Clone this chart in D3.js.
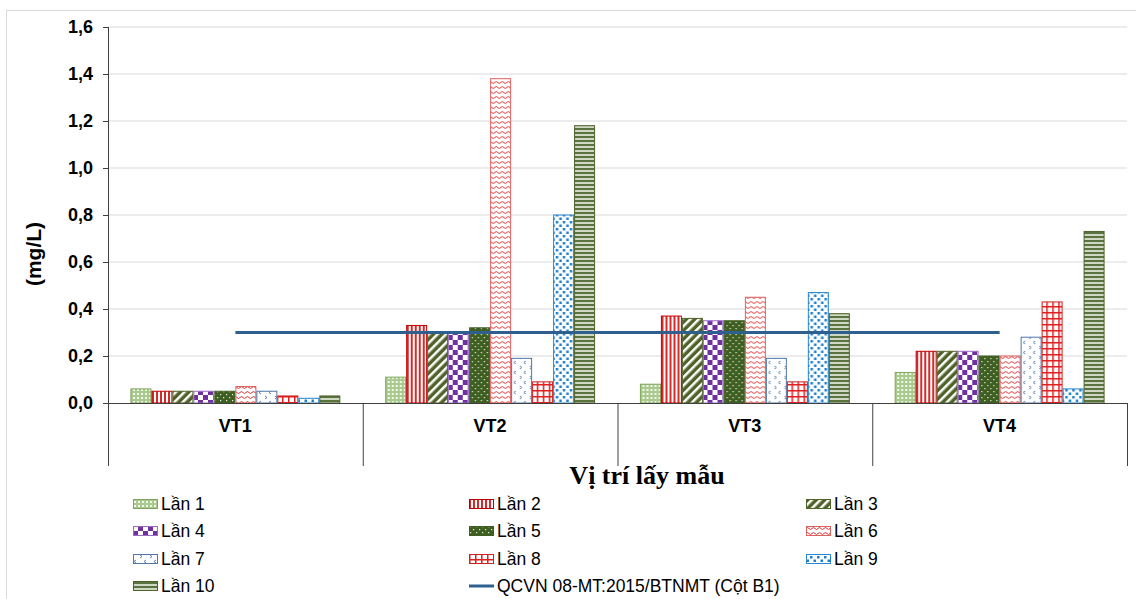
<!DOCTYPE html>
<html>
<head>
<meta charset="utf-8">
<script src="https://cdn.jsdelivr.net/npm/d3@7"></script>
<style>
  html, body { margin: 0; padding: 0; background: #fff; }
  svg { display: block; }
</style>
</head>
<body>
<svg id="chart" width="1136" height="599"></svg>
<script>
// Sampling sites and measurement rounds
const categories = ["VT1", "VT2", "VT3", "VT4"];
const seriesNames = ["Lần 1", "Lần 2", "Lần 3", "Lần 4", "Lần 5", "Lần 6", "Lần 7", "Lần 8", "Lần 9", "Lần 10"];

// Concentration (mg/L) per round, one value per site
const lan1  = [0.06, 0.11, 0.08, 0.13];
const lan2  = [0.05, 0.33, 0.37, 0.22];
const lan3  = [0.05, 0.30, 0.36, 0.22];
const lan4  = [0.05, 0.30, 0.35, 0.22];
const lan5  = [0.05, 0.32, 0.35, 0.20];
const lan6  = [0.07, 1.38, 0.45, 0.20];
const lan7  = [0.05, 0.19, 0.19, 0.28];
const lan8  = [0.03, 0.09, 0.09, 0.43];
const lan9  = [0.02, 0.80, 0.47, 0.06];
const lan10 = [0.03, 1.18, 0.38, 0.73];
const seriesValues = [lan1, lan2, lan3, lan4, lan5, lan6, lan7, lan8, lan9, lan10];

// Regulation limit line
const limitName = "QCVN 08-MT:2015/BTNMT (Cột B1)";
const limitValues = [0.3, 0.3, 0.3, 0.3];

const yTicks = [0, 0.2, 0.4, 0.6, 0.8, 1.0, 1.2, 1.4, 1.6];
const yTitle = "(mg/L)";
const xTitle = "Vị trí lấy mẫu";

const svg = d3.select("#chart");
const defs = svg.append("defs");
const SANS = "Liberation Sans, Arial, sans-serif";

// ---- fill patterns for the ten rounds ----
function pat(id, w, h, bg) {
  const p = defs.append("pattern").attr("id", id).attr("patternUnits", "userSpaceOnUse")
    .attr("width", w).attr("height", h);
  p.append("rect").attr("width", w).attr("height", h).attr("fill", bg);
  return p;
}
// 1: light green fine grid
{
  const p = pat("p1", 4, 4, "#a9c98f");
  p.append("rect").attr("x", 1).attr("y", 1).attr("width", 2).attr("height", 2).attr("fill", "#f2f7ee");
}
// 2: red vertical lines
{
  const p = pat("p2", 4, 4, "#ffffff");
  p.append("rect").attr("x", 0).attr("width", 2).attr("height", 4).attr("fill", "#d62a2a");
}
// 3: dark green wide diagonal
{
  const p = pat("p3", 6, 6, "#4f6228");
  p.attr("patternTransform", "rotate(45)");
  p.append("rect").attr("x", 0).attr("width", 2.5).attr("height", 6).attr("fill", "#ffffff");
}
// 4: purple checkerboard
{
  const p = pat("p4", 10, 10, "#ffffff");
  p.append("rect").attr("width", 5).attr("height", 5).attr("fill", "#7030a0");
  p.append("rect").attr("x", 5).attr("y", 5).attr("width", 5).attr("height", 5).attr("fill", "#7030a0");
}
// 5: dark green with small white dots
{
  const p = pat("p5", 6, 6, "#3f5f22");
  p.append("rect").attr("x", 1).attr("y", 1).attr("width", 1.2).attr("height", 1.2).attr("fill", "#e8efe0");
  p.append("rect").attr("x", 4).attr("y", 4).attr("width", 1.2).attr("height", 1.2).attr("fill", "#e8efe0");
}
// 6: red waves
{
  const p = pat("p6", 6, 5, "#ffffff");
  p.append("path").attr("d", "M0,2.5 Q1.5,0.5 3,2.5 T6,2.5").attr("fill", "none").attr("stroke", "#e03030").attr("stroke-width", 1);
}
// 7: small blue-grey chevrons
{
  const p = pat("p7", 10, 10, "#ffffff");
  p.append("path").attr("d", "M3,1 L1,2.5 L3,4").attr("fill", "none").attr("stroke", "#5a80ad").attr("stroke-width", 1);
  p.append("path").attr("d", "M7,6 L9,7.5 L7,9").attr("fill", "none").attr("stroke", "#5a80ad").attr("stroke-width", 1);
}
// 8: red grid
{
  const p = pat("p8", 6, 6, "#ffffff");
  p.append("rect").attr("x", 0).attr("width", 1.5).attr("height", 6).attr("fill", "#e02020");
  p.append("rect").attr("y", 0).attr("width", 6).attr("height", 1.5).attr("fill", "#e02020");
}
// 9: blue dots
{
  const p = pat("p9", 7, 7, "#ffffff");
  p.append("rect").attr("x", 0.5).attr("y", 0.5).attr("width", 2.5).attr("height", 2.5).attr("fill", "#1b7fd0");
  p.append("rect").attr("x", 4).attr("y", 4).attr("width", 2.5).attr("height", 2.5).attr("fill", "#1b7fd0");
}
// 10: dark green horizontal stripes
{
  const p = pat("p10", 4, 4, "#cfd8c2");
  p.append("rect").attr("y", 0).attr("width", 4).attr("height", 2).attr("fill", "#5b7340");
}
const strokes = ["#7ea65c", "#c00000", "#4f6228", "#9b6bc7", "#3f5f22", "#e06060", "#4f77a8", "#d02020", "#2a86d0", "#4f6228"];

// outer frame
svg.append("rect").attr("x", 6.5).attr("y", 10.5).attr("width", 1140).attr("height", 600)
  .attr("fill", "none").attr("stroke", "#d9d9d9");

// ---- scales ----
const plotLeft = 108, plotRight = 1127, plotTop = 27, base = 403, catBottom = 466;
const y = d3.scaleLinear().domain([0, 1.6]).range([base, plotTop]);
const x0 = d3.scaleBand().domain(categories).range([plotLeft, plotRight]).padding(0);
const bw = x0.bandwidth();
const x1 = d3.scaleBand().domain(seriesNames).range([bw * 0.088, bw * 0.912]).padding(0);

// gridlines
svg.append("g").selectAll("line").data(yTicks.filter(d => d > 0)).join("line")
  .attr("x1", plotLeft).attr("x2", plotRight)
  .attr("y1", d => y(d)).attr("y2", d => y(d))
  .attr("stroke", "#d9d9d9").attr("stroke-width", 1);

// y axis
const yAxis = svg.append("g").attr("transform", `translate(${plotLeft},0)`)
  .call(d3.axisLeft(y).tickValues(yTicks).tickSize(5).tickPadding(10)
    .tickFormat(d => d3.format(".1f")(d).replace(".", ",")));
yAxis.select(".domain").remove();
yAxis.selectAll(".tick line").attr("stroke", "#404040");
yAxis.selectAll("text").attr("font-family", SANS)
  .attr("font-weight", "bold").attr("font-size", 18).attr("fill", "#000");
svg.append("line").attr("x1", plotLeft + 0.5).attr("x2", plotLeft + 0.5).attr("y1", plotTop).attr("y2", catBottom)
  .attr("stroke", "#404040");

// bars
const groups = svg.append("g").selectAll("g").data(categories).join("g")
  .attr("transform", d => `translate(${x0(d)},0)`);
groups.selectAll("rect")
  .data((c, ci) => seriesNames.map((s, si) => ({ s, si, v: seriesValues[si][ci] })))
  .join("rect")
  .attr("x", d => x1(d.s) + 0.5)
  .attr("width", x1.bandwidth() - 1)
  .attr("y", d => y(d.v))
  .attr("height", d => base - y(d.v))
  .attr("fill", d => `url(#p${d.si + 1})`)
  .attr("stroke", d => strokes[d.si]).attr("stroke-width", 1);

// category axis
svg.append("line").attr("x1", plotLeft).attr("x2", plotRight).attr("y1", base + 0.5).attr("y2", base + 0.5)
  .attr("stroke", "#404040");
svg.append("g").selectAll("line").data(categories.map(c => x0(c) + bw)).join("line")
  .attr("x1", d => d + 0.5).attr("x2", d => d + 0.5).attr("y1", base).attr("y2", catBottom)
  .attr("stroke", "#404040");
svg.append("g").selectAll("text").data(categories).join("text")
  .attr("x", d => x0(d) + bw / 2).attr("y", 432)
  .attr("text-anchor", "middle")
  .attr("font-family", SANS).attr("font-weight", "bold").attr("font-size", 18)
  .text(d => d);

// limit line through category centres
const line = d3.line().x((d, i) => x0(categories[i]) + bw / 2).y(d => y(d));
svg.append("path").datum(limitValues).attr("d", line)
  .attr("fill", "none").attr("stroke", "#2e5f8f").attr("stroke-width", 3);

// titles
svg.append("text").attr("x", 647).attr("y", 484).attr("text-anchor", "middle")
  .attr("font-family", "Liberation Serif, Times New Roman, serif").attr("font-weight", "bold").attr("font-size", 26)
  .text(xTitle);
svg.append("text").attr("transform", "translate(41,254) rotate(-90)").attr("text-anchor", "middle")
  .attr("font-family", SANS).attr("font-weight", "bold").attr("font-size", 21)
  .text(yTitle);

// legend
const colX = [133, 469, 806];
const rowY = [504, 531, 559, 586];
const legendItems = seriesNames.map((s, i) => ({ name: s, kind: "bar", i }))
  .concat([{ name: limitName, kind: "line" }]);
const lg = svg.append("g").selectAll("g").data(legendItems).join("g")
  .attr("transform", (d, k) => `translate(${colX[k % 3]},${rowY[Math.floor(k / 3)]})`);
lg.filter(d => d.kind === "bar").append("rect")
  .attr("x", 0.5).attr("y", -4.5).attr("width", 24).attr("height", 9)
  .attr("fill", d => `url(#p${d.i + 1})`).attr("stroke", d => strokes[d.i]);
lg.filter(d => d.kind === "line").append("line")
  .attr("x1", 0).attr("x2", 25).attr("y1", 0).attr("y2", 0)
  .attr("stroke", "#2e5f8f").attr("stroke-width", 3);
lg.append("text").attr("x", 28).attr("y", 6)
  .attr("font-family", SANS).attr("font-size", 17.5)
  .text(d => d.name);
</script>
</body>
</html>
